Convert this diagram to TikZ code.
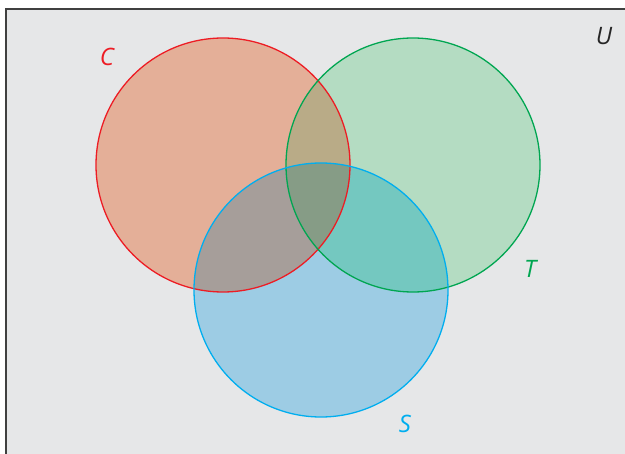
\documentclass[tikz,border=0pt]{standalone}
\usepackage{fontspec}
\setmainfont{Open Sans}
\begin{document}
\begin{tikzpicture}[x=1pt,y=-1pt,
  lbl/.style={font=\fontsize{24}{24}\selectfont\itshape, inner sep=0pt}]
\definecolor{bg}{HTML}{E6E7E8}
\definecolor{cfill}{HTML}{E4AF98}
\definecolor{tfill}{HTML}{B4DCC2}
\definecolor{sfill}{HTML}{9DCCE4}
\definecolor{ctfill}{HTML}{B9AB87}
\definecolor{csfill}{HTML}{A69E9A}
\definecolor{tsfill}{HTML}{74C8C0}
\definecolor{ctsfill}{HTML}{869C86}
\definecolor{cred}{HTML}{ED1C24}
\definecolor{tgreen}{HTML}{00A651}
\definecolor{sblue}{HTML}{00AEEF}
\useasboundingbox (0,0) rectangle (625,454);
\fill[white] (0,0) rectangle (625,454);
\fill[bg] (6,9) rectangle (630,460);
\draw[line width=2pt, color=black!75] (6,460) -- (6,9) -- (630,9);
\def\CC{(223,165) circle[radius=127]}
\def\TC{(413,165) circle[radius=127]}
\def\SC{(321,290) circle[radius=127]}
\fill[cfill] \CC;
\fill[tfill] \TC;
\fill[sfill] \SC;
\begin{scope}\clip \CC; \fill[ctfill] \TC; \end{scope}
\begin{scope}\clip \CC; \fill[csfill] \SC; \end{scope}
\begin{scope}\clip \TC; \fill[tsfill] \SC; \end{scope}
\begin{scope}\clip \CC; \clip \TC; \fill[ctsfill] \SC; \end{scope}
\draw[cred, line width=1.3pt] \CC;
\draw[tgreen, line width=1.3pt] \TC;
\draw[sblue, line width=1.3pt] \SC;
\node[lbl, text=cred] (lc) at (107,57) {C};
\node[lbl, text=black!85] (lu) at (604,36) {U};
\node[lbl, text=tgreen] (lt) at (530,269) {T};
\node[lbl, text=sblue] (ls) at (405,424) {S};
\end{tikzpicture}
\end{document}
